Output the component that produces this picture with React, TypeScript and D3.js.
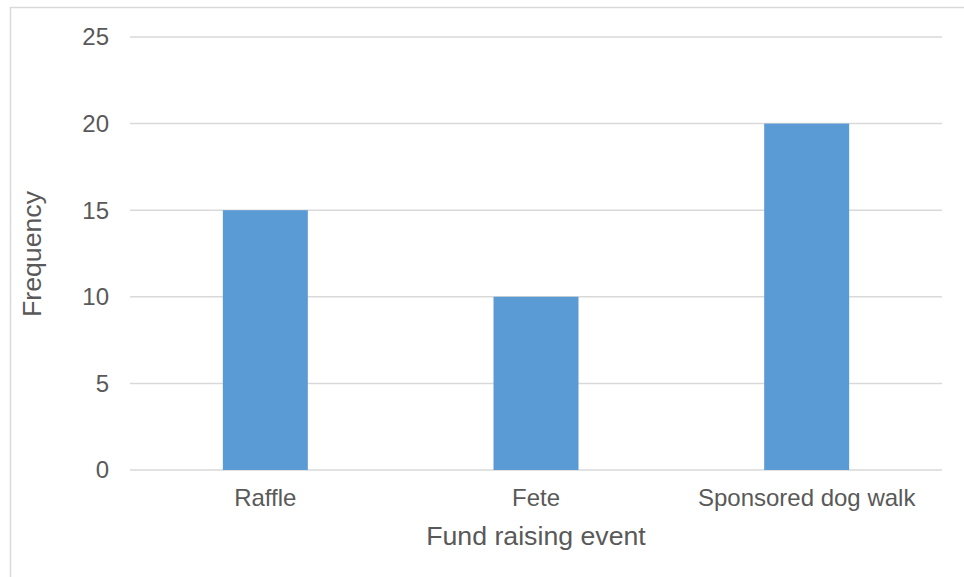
import React, { useEffect, useRef } from "react";
import * as d3 from "d3";

const categories = ["Raffle", "Fete", "Sponsored dog walk"];
const frequency = [15, 10, 20];
const yTicks = [0, 5, 10, 15, 20, 25];

const W = 964;
const H = 577;

export default function App() {
  const ref = useRef<SVGSVGElement>(null);

  useEffect(() => {
    const svg = d3.select(ref.current);
    svg.selectAll("*").remove();

    const x = d3.scaleBand().domain(categories).range([130, 942]).paddingInner(0.686).paddingOuter(0.343);
    const y = d3.scaleLinear().domain([0, 25]).range([470, 37]);
    const font = "'Liberation Sans', Arial, sans-serif";

    // chart frame (cropped at right/bottom)
    svg.append("rect")
      .attr("x", 10.5).attr("y", 7.5)
      .attr("width", 1000).attr("height", 1000)
      .attr("fill", "white")
      .attr("stroke", "#d9d9d9").attr("stroke-width", 1.5);

    // gridlines
    svg.selectAll("line.grid").data(yTicks).enter().append("line")
      .attr("class", "grid")
      .attr("x1", 130).attr("x2", 942)
      .attr("y1", (d) => y(d)).attr("y2", (d) => y(d))
      .attr("stroke", "#d9d9d9").attr("stroke-width", 1.5);

    svg.selectAll("text.ytick").data(yTicks).enter().append("text")
      .attr("class", "ytick")
      .attr("x", 109).attr("y", (d) => y(d))
      .attr("dy", "0.35em")
      .attr("text-anchor", "end")
      .attr("font-family", font).attr("font-size", "24px")
      .attr("fill", "#595959")
      .text((d) => d);

    svg.selectAll("rect.bar").data(frequency).enter().append("rect")
      .attr("class", "bar")
      .attr("x", (d, i) => x(categories[i]) as number)
      .attr("width", x.bandwidth())
      .attr("y", (d) => y(d))
      .attr("height", (d) => y(0) - y(d))
      .attr("fill", "#5b9bd5");

    svg.selectAll("text.xtick").data(categories).enter().append("text")
      .attr("class", "xtick")
      .attr("x", (d) => (x(d) as number) + x.bandwidth() / 2)
      .attr("y", 506)
      .attr("text-anchor", "middle")
      .attr("font-family", font).attr("font-size", "24px")
      .attr("fill", "#595959")
      .text((d) => d);

    // axis titles
    svg.append("text")
      .attr("x", 536).attr("y", 545)
      .attr("text-anchor", "middle")
      .attr("font-family", font).attr("font-size", "26.7px")
      .attr("fill", "#595959")
      .text("Fund raising event");

    svg.append("text")
      .attr("transform", "translate(41,254) rotate(-90)")
      .attr("text-anchor", "middle")
      .attr("font-family", font).attr("font-size", "26.7px")
      .attr("fill", "#595959")
      .text("Frequency");
  }, []);

  return (
    <svg ref={ref} width={W} height={H}
         style={{ position: "absolute", left: 0, top: 0, background: "white" }} />
  );
}
